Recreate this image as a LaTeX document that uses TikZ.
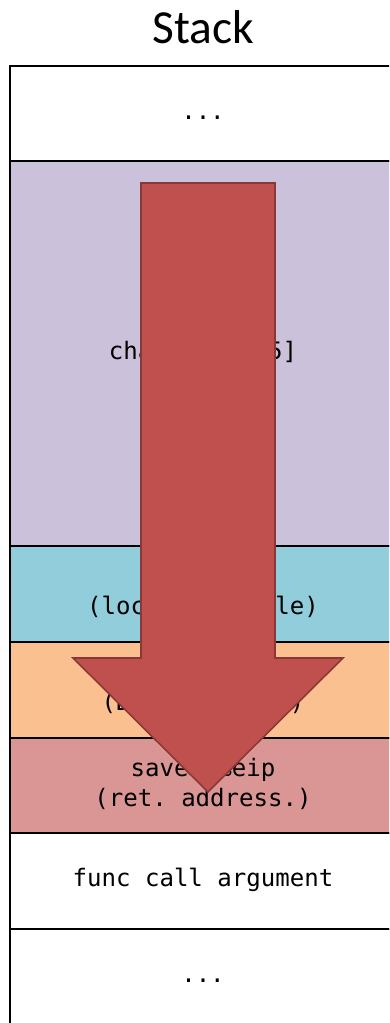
\documentclass[tikz,border=0pt]{standalone}
\usepackage{fontspec}
\setmonofont{DejaVu Sans Mono}
\newfontfamily\titlefont{Carlito}
\usetikzlibrary{positioning}
\definecolor{stkBuf}  {HTML}{CCC1DA}
\definecolor{stkLocal}{HTML}{92CDDC}
\definecolor{stkEbp}  {HTML}{FAC090}
\definecolor{stkEip}  {HTML}{D99694}
\definecolor{stkArrow}{HTML}{C0504D}
\definecolor{stkArrowEdge}{HTML}{8A3836}

\begin{document}
\begin{tikzpicture}[x=0.02cm,y=-0.02cm,
      font=\ttfamily\fontsize{13.7}{17}\selectfont,
      cell/.style={draw=black,line width=1.1pt,minimum width=7.72cm,
                   minimum height=1.91cm,align=center,outer sep=0pt,inner sep=0pt}]
    \clip (0,0) rectangle (389,1023);

    \node[font=\titlefont\fontsize{27}{30}\selectfont] (title) at (203,27) {Stack};

    \node[cell,fill=white]                       (top)   at (203,113.5) {\strut...};
    \node[cell,fill=stkBuf,minimum height=7.7cm] (buf)   at (203,353.5) {\strut char buf[255]};
    \node[cell,fill=stkLocal]                    (local) at (203,594)   {\strut int i\\\strut(local variable)};
    \node[cell,fill=stkEbp]                      (ebp)   at (203,690)   {\strut saved \%ebp\\\strut(Dynamic link)};
    \node[cell,fill=stkEip]                      (eip)   at (203,785.5) {\strut saved \%eip\\\strut(ret. address.)};
    \node[cell,fill=white]                       (arg)   at (203,881)   {\strut func call argument};
    \node[cell,fill=white]                       (bot)   at (203,977)   {\strut...};

    % overflow direction
    \draw[stkArrowEdge,fill=stkArrow,line width=0.9pt,line join=miter]
      (141,183) -- (275,183) -- (275,658) -- (343,658) -- (208,792)
      -- (73,658) -- (141,658) -- cycle;
  \end{tikzpicture}
\end{document}
